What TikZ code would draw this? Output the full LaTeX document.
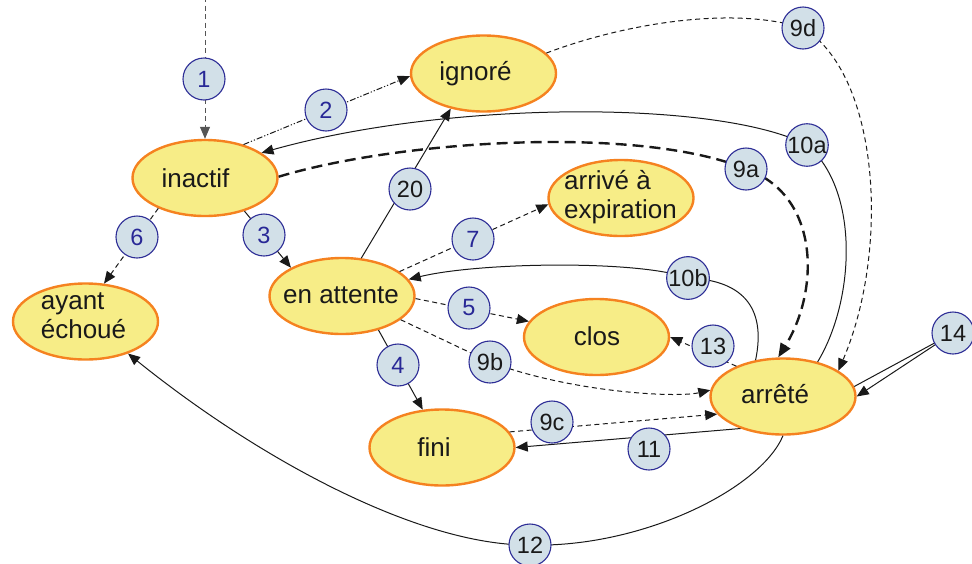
\documentclass[tikz,border=0pt]{standalone}
\usepackage{fontspec}
\setmainfont{Liberation Sans}
\usetikzlibrary{arrows.meta,shapes.geometric}
\definecolor{stfill}{RGB}{247,237,135}
\definecolor{stdraw}{RGB}{245,130,32}
\definecolor{lbfill}{RGB}{210,224,232}
\definecolor{lbdraw}{RGB}{45,45,150}
\definecolor{lbblue}{RGB}{40,40,150}
\definecolor{ink}{RGB}{25,25,25}
\definecolor{greyline}{RGB}{85,85,85}
\begin{document}
\begin{tikzpicture}[x=1pt,y=-1pt,
  state/.style={ellipse,draw=stdraw,fill=stfill,line width=2.4pt,minimum width=145pt,minimum height=76pt,inner sep=0pt},
  stxt/.style={text=ink,font=\fontsize{26}{29}\selectfont,align=left,inner sep=0pt},
  lab/.style={circle,draw=lbdraw,fill=lbfill,line width=1.1pt,minimum size=42pt,inner sep=0pt,font=\fontsize{23.5}{24}\selectfont,text=ink},
  labb/.style={lab,text=lbblue},
  ln/.style={draw=ink,line width=1pt},
  tr/.style={ln,-{Triangle[length=12pt,width=10pt]}},
  dsh/.style={tr,dash pattern=on 5pt off 3.5pt},
  dshdotdot/.style={tr,dash pattern=on 6pt off 2pt on 1.2pt off 2pt on 1.2pt off 2pt},
  thickdsh/.style={draw=ink,line width=2.4pt,dash pattern=on 11pt off 6pt,-{Triangle[length=14pt,width=11pt]}}
]
\useasboundingbox (0,0) rectangle (972,563);

% states
\node[state] (inactif) at (205,178) {};
\node[state] (ignore) at (483.5,73.5) {};
\node[state] (arrive) at (621,198) {};
\node[state] (ayant) at (85.5,321.5) {};
\node[state] (attente) at (342,296) {};
\node[state] (clos) at (596.5,337) {};
\node[state] (arrete) at (783,396.5) {};
\node[state] (fini) at (442,447.5) {};

\node[stxt,anchor=base] (t-inactif) at (195.5,187) {inactif};
\node[stxt,anchor=base] (t-ignore) at (475.5,80) {ignoré};
\node[stxt] (t-arrive) at (620.5,197) {arrivé à\\expiration};
\node[stxt] (t-ayant) at (83.5,316) {ayant\\échoué};
\node[stxt,anchor=base] (t-attente) at (341,303) {en attente};
\node[stxt,anchor=base] (t-clos) at (597,345) {clos};
\node[stxt,anchor=base] (t-arrete) at (775,403) {arrêté};
\node[stxt,anchor=base] (t-fini) at (434,456.5) {fini};

% label positions
\coordinate (top1) at (205,-3);
\coordinate (c1) at (204,79);
\coordinate (c2) at (326,110);
\coordinate (c3) at (264,235);
\coordinate (c6) at (137,237);
\coordinate (c20) at (410,189);
\coordinate (c7) at (473,239);
\coordinate (c5) at (469,308);
\coordinate (c4) at (398,365);
\coordinate (c9b) at (490,362);
\coordinate (c9c) at (552,422);
\coordinate (c11) at (649,449);
\coordinate (c12) at (530,545);
\coordinate (c13) at (713,346);
\coordinate (c10b) at (688,278);
\coordinate (c9a) at (746,169);
\coordinate (c10a) at (807,145);
\coordinate (c9d) at (803,28);
\coordinate (c14) at (953,333);

% connectors
\draw[dsh,draw=greyline] (top1) -- (inactif.north);
\draw[dshdotdot] (inactif.41) -- (ignore.182);
\draw[tr] (inactif.-40) -- (attente.151);
\draw[dsh] (inactif.213) -- (ayant.64);
\draw[tr] (attente.63) -- (ignore.227);
\draw[dsh] (attente.23) -- (arrive.185);
\draw[dsh] (attente.-2) -- (clos.167);
\draw[tr] (attente.-43) -- (fini.117);
\draw[dsh] (attente.-22) -- (c9b) .. controls +(80,30) and +(-35,8) .. (arrete.175);
\draw[dsh] (fini.13) -- (arrete.195);
\draw[tr] (arrete.217) -- (fini.0);
\draw[dsh] (arrete.147) -- (clos.east);
\draw[tr] (arrete.south) .. controls (760,490) and (640,548) .. (c12) .. controls (420,546) and (260,460) .. (ayant.-37);
\draw[tr] (arrete.127) .. controls (767,305) and (740,280) .. (c10b) .. controls (640,260) and (480,262) .. (attente.14);
\draw[tr] (arrete.45) .. controls (855,300) and (860,190) .. (c10a) .. controls (720,100) and (450,100) .. (inactif.24);
\draw[thickdsh] (inactif.1) .. controls (400,140) and (640,125) .. (c9a) .. controls (820,195) and (820,290) .. (arrete.97);
\draw[dsh] (ignore.18) .. controls (620,25) and (730,5) .. (c9d) .. controls (880,75) and (890,250) .. (arrete.25);
\draw[ln] (c14) -- (arrete.8);
\draw[tr] (c14) -- (arrete.east);

% labels
\node[labb] (l1) at (c1) {1};
\node[labb] (l2) at (c2) {2};
\node[labb] (l3) at (c3) {3};
\node[labb] (l6) at (c6) {6};
\node[lab] (l20) at (c20) {20};
\node[labb] (l7) at (c7) {7};
\node[labb] (l5) at (c5) {5};
\node[labb] (l4) at (c4) {4};
\node[lab] (l9b) at (c9b) {9b};
\node[lab] (l9c) at (c9c) {9c};
\node[lab] (l11) at (c11) {11};
\node[lab] (l12) at (c12) {12};
\node[lab] (l13) at (c13) {13};
\node[lab] (l10b) at (c10b) {10b};
\node[lab] (l9a) at (c9a) {9a};
\node[lab] (l10a) at (c10a) {10a};
\node[lab] (l9d) at (c9d) {9d};
\node[lab] (l14) at (c14) {14};
\end{tikzpicture}
\end{document}
